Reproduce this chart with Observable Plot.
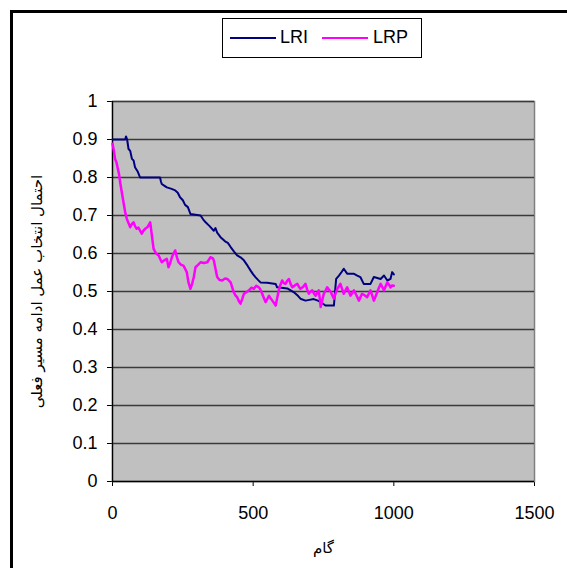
<!DOCTYPE html>
<html>
<head>
<meta charset="utf-8">
<script src="https://cdn.jsdelivr.net/npm/d3@7"></script>
<script src="https://cdn.jsdelivr.net/npm/@observablehq/plot@0.6"></script>
<style>
  html, body { margin: 0; padding: 0; background: #fff; }
  #wrap { position: relative; width: 567px; height: 568px; overflow: hidden; }
  #outer { position: absolute; left: 10px; top: 10px; width: 600px; height: 600px;
           border-left: 3px solid #000; border-top: 3px solid #000; box-sizing: border-box; }
  #chart { position: absolute; left: 0; top: 0; }
  #legend { position: absolute; left: 222px; top: 18px; width: 200px; height: 40px;
            box-sizing: border-box; border: 1px solid #000; background: #fff;
            font-family: 'Liberation Sans', Arial, sans-serif; font-size: 18px; }
  .sw { position: absolute; height: 2px; top: 18px; }
  .lt { position: absolute; top: 8px; line-height: 20px; }
</style>
</head>
<body>
<div id="wrap">
  <div id="outer"></div>
  <div id="chart"></div>
  <div id="legend"></div>
</div>
<script>
const seriesNames = ["LRI", "LRP"];
const seriesColors = ["#000080", "#ff00ff"];
const xTicks = [0, 500, 1000, 1500];
const yTicks = [0, 0.1, 0.2, 0.3, 0.4, 0.5, 0.6, 0.7, 0.8, 0.9, 1];
const xTitle = "گام";
const yTitle = "احتمال انتخاب عمل ادامه مسیر فعلی";

const lriSteps = [0,45,48,52,57,63,69,75,80,90,98,169,172,175,185,193,210,223,232,240,250,258,268,277,313,322,331,345,360,366,372,384,400,410,420,432,443,455,467,480,491,500,508,518,526,550,580,585,621,635,645,660,668,686,700,715,730,740,757,787,791,795,805,815,822,834,857,870,881,893,917,929,953,965,977,988,994,1000];
const lriValues = [0.900,0.900,0.908,0.900,0.875,0.870,0.849,0.845,0.827,0.815,0.800,0.800,0.790,0.783,0.778,0.774,0.770,0.766,0.760,0.748,0.740,0.728,0.722,0.704,0.700,0.690,0.682,0.672,0.660,0.667,0.655,0.643,0.632,0.628,0.617,0.605,0.595,0.590,0.582,0.568,0.555,0.545,0.538,0.530,0.524,0.523,0.520,0.511,0.508,0.502,0.498,0.488,0.481,0.476,0.478,0.480,0.476,0.472,0.463,0.463,0.500,0.533,0.542,0.552,0.560,0.547,0.547,0.542,0.538,0.520,0.520,0.538,0.533,0.542,0.529,0.533,0.551,0.545];

const lrpSteps = [0,5,9,14,19,23,27,33,39,45,51,57,63,69,75,80,86,92,98,104,110,116,125,134,137,140,146,155,164,175,184,193,199,205,211,217,223,229,235,244,252,258,264,270,277,283,289,295,304,313,325,337,348,356,360,366,372,381,390,400,408,420,431,437,443,449,455,461,467,476,485,494,502,511,520,526,532,538,544,550,556,562,568,574,580,586,591,597,603,609,615,621,627,633,639,648,657,663,668,677,686,692,698,704,710,716,722,728,733,737,740,746,751,757,763,769,775,781,787,793,799,805,810,816,822,828,834,840,846,852,858,867,876,882,887,896,905,911,917,923,929,935,941,947,953,959,965,971,977,983,988,994,1000];
const lrpValues = [0.889,0.870,0.849,0.840,0.823,0.810,0.788,0.761,0.735,0.709,0.691,0.680,0.669,0.678,0.682,0.672,0.665,0.668,0.660,0.652,0.660,0.665,0.670,0.682,0.665,0.647,0.612,0.600,0.595,0.577,0.582,0.586,0.564,0.575,0.590,0.600,0.608,0.590,0.577,0.570,0.568,0.560,0.551,0.524,0.507,0.520,0.538,0.564,0.570,0.577,0.575,0.577,0.590,0.588,0.582,0.560,0.538,0.530,0.529,0.534,0.533,0.524,0.498,0.490,0.485,0.475,0.468,0.480,0.494,0.498,0.503,0.510,0.507,0.515,0.511,0.505,0.494,0.483,0.472,0.480,0.489,0.482,0.476,0.470,0.463,0.485,0.503,0.518,0.529,0.522,0.520,0.528,0.533,0.520,0.511,0.516,0.520,0.512,0.507,0.512,0.520,0.505,0.494,0.500,0.503,0.495,0.489,0.497,0.503,0.480,0.459,0.478,0.494,0.502,0.511,0.505,0.500,0.490,0.481,0.495,0.507,0.514,0.520,0.507,0.494,0.503,0.511,0.500,0.489,0.496,0.503,0.490,0.476,0.486,0.494,0.490,0.485,0.494,0.503,0.490,0.476,0.487,0.498,0.510,0.520,0.512,0.503,0.514,0.524,0.518,0.511,0.516,0.515];

const lri = lriSteps.map((s, i) => ({step: s, value: lriValues[i]}));
const lrp = lrpSteps.map((s, i) => ({step: s, value: lrpValues[i]}));

const chart = Plot.plot({
  width: 567,
  height: 568,
  marginLeft: 112,
  marginRight: 33,
  marginTop: 101,
  marginBottom: 87,
  style: {fontFamily: "'Liberation Sans', Arial, 'DejaVu Sans', sans-serif", fontSize: "18px", background: "transparent", color: "#000"},
  x: {domain: [0, 1500], ticks: xTicks, tickSize: 5, tickPadding: 20, tickFormat: d => String(d), label: null},
  y: {domain: [0, 1], ticks: yTicks, tickSize: 5, tickPadding: 10, tickFormat: d => String(d), label: null},
  marks: [
    Plot.frame({fill: "#c0c0c0", stroke: "#808080", strokeWidth: 1.5}),
    Plot.ruleY(yTicks.filter(d => d > 0), {stroke: "#3a3a3a", strokeWidth: 1.4}),
    Plot.ruleX([0], {stroke: "#000", strokeWidth: 1.3}),
    Plot.ruleY([0], {stroke: "#000", strokeWidth: 1.3}),
    Plot.line(lri, {x: "step", y: "value", stroke: seriesColors[0], strokeWidth: 2}),
    Plot.line(lrp, {x: "step", y: "value", stroke: seriesColors[1], strokeWidth: 2.5}),
    Plot.text([xTitle], {frameAnchor: "bottom", dy: 67, lineAnchor: "middle", textAnchor: "middle", text: d => d, fontSize: 15, fontFamily: "'DejaVu Sans', sans-serif"}),
    Plot.text([yTitle], {frameAnchor: "left", dx: -75.5, rotate: -90, lineAnchor: "middle", textAnchor: "middle", text: d => d, fontSize: 15, fontFamily: "'DejaVu Sans', sans-serif"})
  ]
});
document.getElementById("chart").appendChild(chart);

const legend = document.getElementById("legend");
const swLeft = [7, 99];
const txtLeft = [57, 150];
seriesNames.forEach((name, i) => {
  const sw = document.createElement("div");
  sw.className = "sw";
  sw.style.left = swLeft[i] + "px";
  sw.style.width = "46px";
  sw.style.background = seriesColors[i];
  legend.appendChild(sw);
  const t = document.createElement("div");
  t.className = "lt";
  t.style.left = txtLeft[i] + "px";
  t.textContent = name;
  legend.appendChild(t);
});
</script>
</body>
</html>
